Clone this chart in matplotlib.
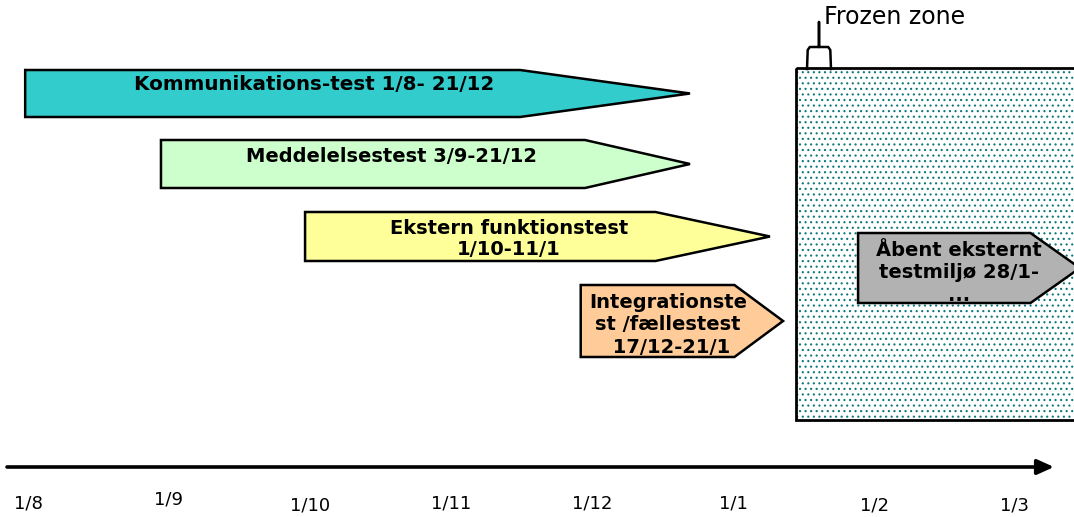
import matplotlib
matplotlib.use("Agg")
import matplotlib.pyplot as plt
from matplotlib.patches import Polygon, Rectangle

# ---- data (x in months since 1/8; 0 = 1/8, 7 = 1/3) ----
tick_labels = ["1/8", "1/9", "1/10", "1/11", "1/12", "1/1", "1/2", "1/3"]
tick_months = [0, 1, 2, 3, 4, 5, 6, 7]

labels = [
    "Kommunikations-test 1/8- 21/12",
    "Meddelelsestest 3/9-21/12",
    "Ekstern funktionstest\n1/10-11/1",
    "Integrationste\nst /fællestest\n 17/12-21/1",
    "Åbent eksternt\ntestmiljø 28/1-\n...",
]
starts = [-0.02, 0.943, 1.965, 3.92, 5.887]     # left edge of each arrow
body_ends = [3.49, 3.95, 4.45, 5.01, 7.11]       # end of rectangular part
tips = [4.695, 4.695, 5.262, 5.355, 7.46]        # arrow point
colors = ["#33CCCC", "#CCFFCC", "#FFFF99", "#FFCC99", "#B2B2B2"]

frozen_start = 5.45
frozen_end = 7.6
frozen_label = "Frozen zone"

# ---- layout (pixel rows, y grows downward) ----
lane_top = [70, 140, 212, 285, 233]
lane_bot = [117, 188, 261, 357, 303]
text_x = [2.03, 2.58, 3.41, 4.54, 6.60]
text_y = [85, 156, 239, 325, 273]
text_ls = [1.0, 1.0, 1.12, 1.22, 1.22]

PX = 141.0   # pixels per month
X0 = 28.0    # pixel of 1/8


def m(px):
    return (px - X0) / PX


plt.rcParams["hatch.linewidth"] = 0.8
plt.rcParams["hatch.color"] = "#107878"

fig = plt.figure(figsize=(10.74, 5.17), dpi=100)
ax = fig.add_axes([0, 0, 1, 1])
ax.set_xlim(m(0), m(1074))
ax.set_ylim(517, 0)
ax.axis("off")

# frozen zone box with dots
ax.add_patch(Rectangle((frozen_start, 68), frozen_end - frozen_start, 420 - 68,
                       facecolor="white", edgecolor="#107878", hatch="...",
                       linewidth=0, zorder=1))
ax.add_patch(Rectangle((frozen_start, 68), frozen_end - frozen_start, 420 - 68,
                       facecolor="none", edgecolor="black", linewidth=2.0, zorder=2))

# brace above frozen zone
bx0, bx1, bxm = m(807), m(831), m(819)
verts = [(bx0, 69), (bx0 + 0.005, 50), (bx0 + 0.02, 47), (bxm, 47), (bxm, 22),
         (bxm, 47), (bx1 - 0.02, 47), (bx1 - 0.005, 50), (bx1, 69)]
ax.plot([v[0] for v in verts], [v[1] for v in verts], color="black", lw=1.8,
        solid_joinstyle="round", zorder=3)
ax.text(m(824), 17, frozen_label, fontsize=17, va="center", ha="left",
        family="DejaVu Sans")

# arrows
for i in range(len(labels)):
    t, b = lane_top[i], lane_bot[i]
    c = (t + b) / 2
    poly = Polygon([(starts[i], t), (body_ends[i], t), (tips[i], c),
                    (body_ends[i], b), (starts[i], b)], closed=True,
                   facecolor=colors[i], edgecolor="black", linewidth=1.8,
                   joinstyle="miter", zorder=4)
    ax.add_patch(poly)
    ax.text(text_x[i], text_y[i], labels[i], ha="center", va="center",
            fontsize=14.3 if i == 0 else 14, fontweight="bold",
            linespacing=text_ls[i], zorder=5, family="DejaVu Sans")

# time axis arrow
ax.annotate("", xy=(m(1054), 467), xytext=(m(7), 467),
            arrowprops=dict(arrowstyle="-|>,head_length=1.0,head_width=0.45",
                            color="black", lw=2.6, shrinkA=0, shrinkB=0))

label_y = [503, 500, 505, 503, 503, 503, 506, 506]
for tm, tl, ly in zip(tick_months, tick_labels, label_y):
    ax.text(tm, ly, tl, ha="center", va="center", fontsize=13,
            family="DejaVu Sans")

fig.savefig("out.png", dpi=100)
